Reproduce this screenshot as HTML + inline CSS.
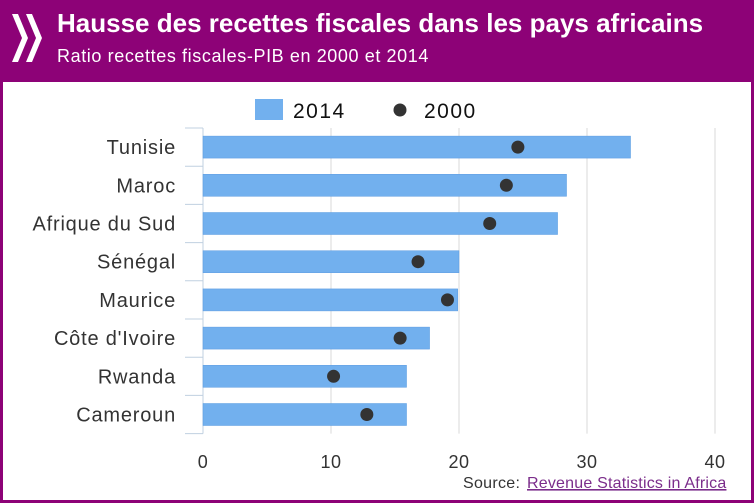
<!DOCTYPE html>
<html><head><meta charset="utf-8"><style>
body{margin:0;width:754px;height:503px;background:#8d0277;font-family:"Liberation Sans",sans-serif;overflow:hidden;position:relative}
#title{position:absolute;left:57px;top:8px;color:#fff;font-weight:bold;font-size:26px;letter-spacing:0px;white-space:nowrap}
#sub{position:absolute;left:57px;top:46px;color:#fff;font-size:18px;letter-spacing:0.6px;white-space:nowrap}
#panel{position:absolute;left:3px;top:82px;width:748px;height:418px;background:#fff}
</style></head><body>
<svg style="position:absolute;left:8px;top:10px" width="36" height="56"><path d="M4 4 L14 28 L4 52 L10 52 L20 28 L10 4Z M18 4 L28 28 L18 52 L24 52 L34 28 L24 4Z" fill="#fff"/></svg>
<div id="title">Hausse des recettes fiscales dans les pays africains</div>
<div id="sub">Ratio recettes fiscales-PIB en 2000 et 2014</div>
<div id="panel"></div>
<svg id="chart" width="754" height="503" style="position:absolute;left:0;top:0"></svg>
<script>
const categories=["Tunisie","Maroc","Afrique du Sud","Sénégal","Maurice","Côte d'Ivoire","Rwanda","Cameroun"];
const values2014=[33.4,28.4,27.7,20.0,19.9,17.7,15.9,15.9];
const values2000=[24.6,23.7,22.4,16.8,19.1,15.4,10.2,12.8];
const ticks=[0,10,20,30,40];
const svg=document.getElementById('chart');
const NS='http://www.w3.org/2000/svg';
const x0=203,scale=12.8,plotTop=128,step=38.2;
const X=v=>x0+v*scale;
const Y=i=>plotTop+step*i+step/2;
function el(t,a,txt){const e=document.createElementNS(NS,t);for(const k in a)e.setAttribute(k,a[k]);if(txt!=null)e.textContent=txt;svg.appendChild(e);return e;}
ticks.forEach(t=>{
 if(t>0){const g=el('line',{x1:X(t),x2:X(t),y1:plotTop,y2:plotTop+step*8,stroke:'#d8d8d8','stroke-width':1});
 
 }
 const l=el('text',{x:X(t),y:468,'text-anchor':'middle','font-size':18,'letter-spacing':0.5,fill:'#333'},t);
 
 
});
const ax=el('line',{x1:x0,x2:x0,y1:plotTop,y2:plotTop+step*8,stroke:'#c0d0e0'});


for(let i=0;i<=8;i++){const tk=el('line',{x1:185,x2:x0,y1:plotTop+step*i,y2:plotTop+step*i,stroke:'#c0d0e0'});
 
 }
categories.forEach((c,i)=>{
 const b=el('rect',{x:X(0),y:Y(i)-11,width:X(values2014[i])-X(0),height:22,fill:'#72b0ee',stroke:'#5a9be0','stroke-width':0.5});
 
 
 const d=el('circle',{cx:X(values2000[i]),cy:Y(i),r:6.5,fill:'#333'});
 
 
 const l=el('text',{x:176,y:Y(i)+7,'text-anchor':'end','font-size':20,'letter-spacing':0.8,fill:'#333'},c);
 
 
});
const lr=el('rect',{x:255,y:99,width:28,height:21,fill:'#72b0ee'});


const lt=el('text',{x:293,y:118,'font-size':21,'letter-spacing':1.5,fill:'#111'},'2014');


const lc=el('circle',{cx:400,cy:110,r:6.5,fill:'#333'});


const lt2=el('text',{x:424,y:118,'font-size':21,'letter-spacing':1.5,fill:'#111'},'2000');


const s=el('text',{x:463,y:488,'font-size':16,'letter-spacing':0.3,fill:'#333'},'Source: ');


const a=el('text',{x:527,y:488,'font-size':16,'letter-spacing':0.2,fill:'#7b2d8b','text-decoration':'underline'},'Revenue Statistics in Africa');


</script>
</body></html>
